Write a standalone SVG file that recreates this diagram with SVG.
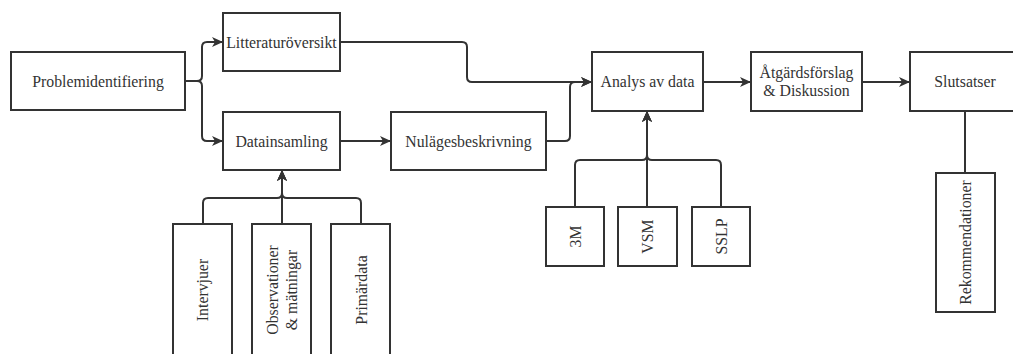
<svg xmlns="http://www.w3.org/2000/svg" width="1013" height="354" viewBox="0 0 1013 354">
<style>
.box{fill:#fff;stroke:#333;stroke-width:2}
.t{font-family:"Liberation Serif","Times New Roman",serif;font-size:15.8px;fill:#333;text-anchor:middle}
.c{fill:none;stroke:#333;stroke-width:2}
</style>
<defs>
<marker id="arr" markerUnits="userSpaceOnUse" markerWidth="12" markerHeight="12" viewBox="0 0 12 12" refX="11" refY="6" orient="auto">
<path d="M0,1 L11,6 L0,11 L3,6 z" fill="#333"/>
</marker>
</defs>
<rect width="1013" height="354" fill="#fff"/>
<g id="connectors">
<path class="c" d="M185,81 H197 Q202,81 202,76 V47 Q202,42 207,42 H223" marker-end="url(#arr)"/>
<path class="c" d="M185,81 H197 Q202,81 202,86 V136 Q202,141 207,141 H223" marker-end="url(#arr)"/>
<path class="c" d="M340,141 H391" marker-end="url(#arr)"/>
<path class="c" d="M340,42 H462 Q467,42 467,47 V77 Q467,82 472,82 H592" marker-end="url(#arr)"/>
<path class="c" d="M546,141 H565 Q570,141 570,136 V87 Q570,82 575,82 H592" marker-end="url(#arr)"/>
<path class="c" d="M703,82 H751" marker-end="url(#arr)"/>
<path class="c" d="M862,82 H910" marker-end="url(#arr)"/>
<path class="c" d="M965,111 V173"/>
<path class="c" d="M203,224 V203 Q203,198 208,198 H277 Q282,198 282,193 V170" marker-end="url(#arr)"/>
<path class="c" d="M282,224 V170" marker-end="url(#arr)"/>
<path class="c" d="M361,224 V203 Q361,198 356,198 H287 Q282,198 282,193 V170" marker-end="url(#arr)"/>
<path class="c" d="M575,207 V165 Q575,160 580,160 H642 Q647,160 647,155 V111" marker-end="url(#arr)"/>
<path class="c" d="M647,207 V111" marker-end="url(#arr)"/>
<path class="c" d="M721,207 V165 Q721,160 716,160 H652 Q647,160 647,155 V111" marker-end="url(#arr)"/>
</g>
<g id="problem"><rect class="box" x="11" y="52" width="174" height="58"/><text class="t" x="98" y="86.5">Problemidentifiering</text></g>
<g id="litteratur"><rect class="box" x="223" y="13" width="117" height="58"/><text class="t" x="281.5" y="47.5">Litteraturöversikt</text></g>
<g id="datainsamling"><rect class="box" x="223" y="112" width="117" height="58"/><text class="t" x="281.5" y="146.5">Datainsamling</text></g>
<g id="nulage"><rect class="box" x="391" y="112" width="155" height="58"/><text class="t" x="468.5" y="146.5">Nulägesbeskrivning</text></g>
<g id="analys"><rect class="box" x="592" y="52" width="111" height="59"/><text class="t" x="647.5" y="87">Analys av data</text></g>
<g id="atgard"><rect class="box" x="751" y="52" width="111" height="59"/><text class="t" x="806.5" y="78">Åtgärdsförslag</text><text class="t" x="806.5" y="96">&amp; Diskussion</text></g>
<g id="slutsatser"><rect class="box" x="910" y="52" width="110" height="59"/><text class="t" x="965" y="87">Slutsatser</text></g>
<g id="rekommendationer"><rect class="box" x="936" y="173" width="59" height="139"/><text class="t" transform="translate(970.5,242.5) rotate(-90)">Rekommendationer</text></g>
<g id="intervjuer"><rect class="box" x="173" y="224" width="59" height="134"/><text class="t" transform="translate(208,290) rotate(-90)">Intervjuer</text></g>
<g id="observationer"><rect class="box" x="252" y="224" width="59" height="134"/><text class="t" transform="translate(278,290) rotate(-90)">Observationer</text><text class="t" transform="translate(297,290) rotate(-90)">&amp; mätningar</text></g>
<g id="primardata"><rect class="box" x="331" y="224" width="59" height="134"/><text class="t" transform="translate(367,290) rotate(-90)">Primärdata</text></g>
<g id="m3"><rect class="box" x="546" y="207" width="58" height="59"/><text class="t" transform="translate(580.5,236.5) rotate(-90)">3M</text></g>
<g id="vsm"><rect class="box" x="618" y="207" width="59" height="59"/><text class="t" transform="translate(652.5,236.5) rotate(-90)">VSM</text></g>
<g id="sslp"><rect class="box" x="692" y="207" width="58" height="59"/><text class="t" transform="translate(726.5,236.5) rotate(-90)">SSLP</text></g>
</svg>
